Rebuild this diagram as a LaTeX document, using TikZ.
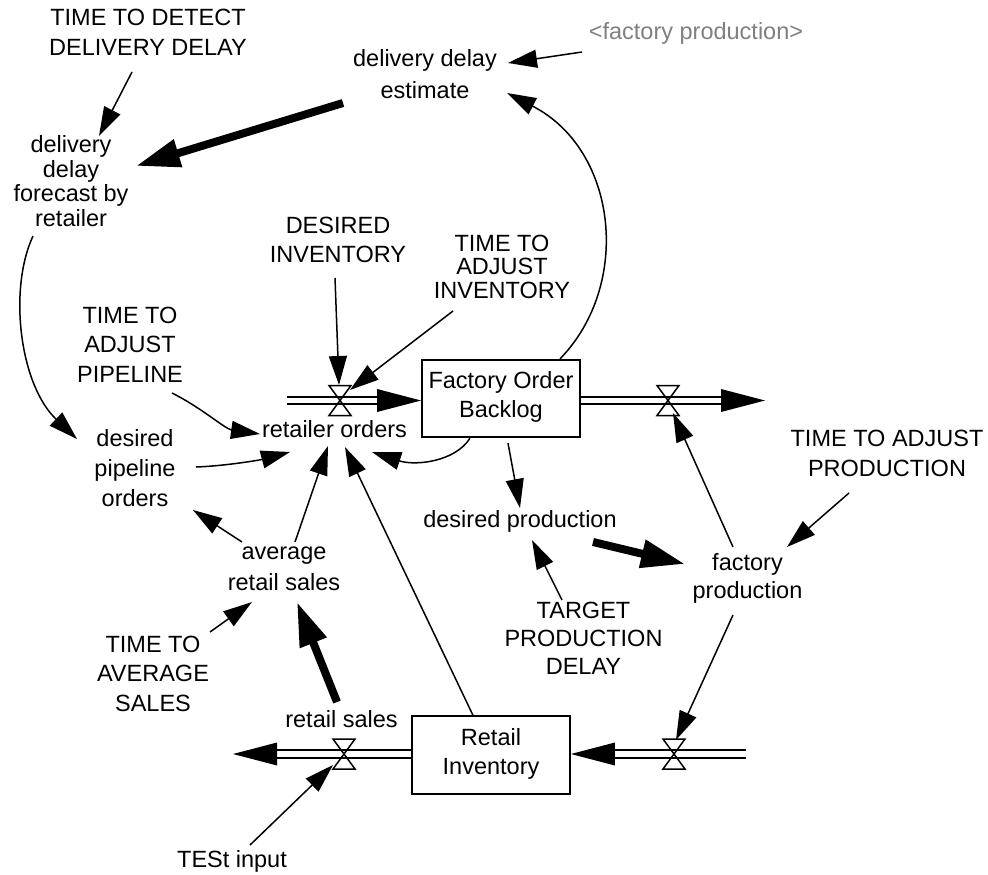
\documentclass[tikz,border=0pt]{standalone}
\usepackage{fontspec}
\newfontfamily\vf{Liberation Sans}
\usetikzlibrary{arrows.meta,calc}
\newcommand\vstrut{\rule[-8pt]{0pt}{28pt}}
\definecolor{fpgray}{RGB}{128,128,128}
\begin{document}
\begin{tikzpicture}[x=1pt,y=-1pt,
  var/.style={align=center, inner sep=0pt, font=\vf\fontsize{23.5}{#1}\selectfont,
    execute at begin node=\vstrut, execute at end node=\vstrut},
  var/.default=30,
  stock/.style={draw, line width=1.8pt, minimum width=158pt, minimum height=77.5pt,
    inner sep=0pt, align=center, font=\vf\fontsize{23.5}{29}\selectfont,
    execute at begin node=\vstrut, execute at end node=\vstrut},
  lnk/.style={line width=1.5pt, -{Triangle[length=29pt,width=18pt]}},
  thk/.style={line width=8pt, -{Triangle[length=44pt,width=27pt]}},
  pipe/.style={double distance=5.9pt, line width=1.6pt},
  valve/.style={line width=1.5pt, line join=miter},
  pipehead/.style={fill=black}]
\fill[white] (0,0) rectangle (988,875);
\useasboundingbox (0,0) rectangle (988,875);

% variables
\node[var] (tddd) at (148,36) {TIME TO DETECT\\DELIVERY DELAY};
\node[var=32] (dde) at (425,78) {delivery delay\\estimate};
\node[var, text=fpgray] (fps) at (696,34) {<factory production>};
\node[var=24.7] (ddf) at (71,185) {delivery\\delay\\forecast by\\retailer};
\node[var=29] (di) at (338,243.5) {DESIRED\\INVENTORY};
\node[var=23.5] (tai) at (502,270.5) {TIME TO\\ADJUST\\INVENTORY};
\node[var=29.5] (tap) at (130,348.5) {TIME TO\\ADJUST\\PIPELINE};
\node[var] (dpo) at (135,472) {desired\\pipeline\\orders};
\node[var] (ro) at (334.5,431) {retailer orders};
\node[stock] (bk) at (501,398.5) {Factory Order\\Backlog};
\node[stock] (ri) at (491,755) {Retail\\Inventory};
\node[var] (dp) at (520,521) {desired production};
\node[var=28] (fp) at (747.5,580) {factory\\production};
\node[var] (tapr) at (887,457) {TIME TO ADJUST\\PRODUCTION};
\node[var=31] (ars) at (284,572.5) {average\\retail sales};
\node[var=28] (tpd) at (583.5,642) {TARGET\\PRODUCTION\\DELAY};
\node[var=29.5] (tas) at (153,677.5) {TIME TO\\AVERAGE\\SALES};
\node[var] (rs) at (341.5,721) {retail sales};
\node[var] (ti) at (232,861) {TESt input};

% valves and pipe ends
\coordinate (v1) at (340,400.5);
\coordinate (v2) at (668,400.5);
\coordinate (v3) at (344,754);
\coordinate (v4) at (674,754);
\coordinate (src1) at (287,400.5);
\coordinate (snk2) at (765,400.5);
\coordinate (snk3) at (233,754);
\coordinate (src4) at (746,754);

% pipes
\draw[pipe] (src1) -- ($(v1 -| bk.west)+(-43,0)$);
\fill[pipehead] ($(v1 -| bk.west)+(-44,-11.5)$) -- (v1 -| bk.west) -- ($(v1 -| bk.west)+(-44,11.5)$) -- cycle;
\draw[pipe] (v2 -| bk.east) -- ($(snk2)+(-43,0)$);
\fill[pipehead] ($(snk2)+(-44,-11.5)$) -- (snk2) -- ($(snk2)+(-44,11.5)$) -- cycle;
\draw[pipe] (v3 -| ri.west) -- ($(snk3)+(43,0)$);
\fill[pipehead] ($(snk3)+(44,-11.5)$) -- (snk3) -- ($(snk3)+(44,11.5)$) -- cycle;
\draw[pipe] (src4) -- ($(v4 -| ri.east)+(43,0)$);
\fill[pipehead] ($(v4 -| ri.east)+(44,-11.5)$) -- (v4 -| ri.east) -- ($(v4 -| ri.east)+(44,11.5)$) -- cycle;

\foreach \v in {v1,v2,v3,v4}{
  \draw[valve] ($(\v)+(-11,-15)$) -- ($(\v)+(11,-15)$) -- (\v) -- cycle
               ($(\v)+(-11,15)$) -- ($(\v)+(11,15)$) -- (\v) -- cycle;
}

% links
\draw[lnk] ($(tddd)+(-16,36)$) -- ($(ddf)+(28,-49)$);
\draw[lnk] ($(fps)+(-114,18)$) -- ($(dde)+(83,-15)$);
\draw[thk] ($(dde)+(-82,25)$) -- ($(ddf)+(65,-19)$);
\draw[lnk] ($(bk.north)+(59,0)$) .. controls (632,285) and (618,150) .. ($(dde)+(82,15)$);
\draw[lnk] ($(ddf)+(-38,51)$) .. controls (8,290) and (20,385) .. ($(dpo)+(-58,-33)$);
\draw[lnk] ($(tap)+(42,44.5)$) .. controls (202,408) and (225,429) .. ($(ro)+(-74.5,3)$);
\draw[lnk] ($(dpo)+(61,-5)$) .. controls (225,466) and (260,460) .. ($(ro)+(-44.5,21)$);
\draw[lnk] ($(ars)+(-42,-30.5)$) -- ($(dpo)+(58,38)$);
\draw[lnk] ($(ars)+(11,-30.5)$) -- ($(ro)+(-6.5,15)$);
\draw[lnk] ($(ri.north)+(-18,0)$) -- ($(ro)+(10.5,16)$);
\draw[lnk] ($(bk.south)+(-31,0)$) .. controls (455,462) and (415,466) .. ($(ro)+(37.5,21)$);
\draw[lnk] ($(di)+(-3,34.5)$) -- ($(v1)+(-1,-15.5)$);
\draw[lnk] ($(tai)+(-49,40.5)$) -- ($(v1)+(10,-10.5)$);
\draw[lnk] ($(bk.south)+(7,5)$) -- ($(dp)+(0,-13)$);
\draw[lnk] ($(fp)+(-14.5,-33)$) -- ($(v2)+(5,12.5)$);
\draw[lnk] ($(tapr)+(-38,36)$) -- ($(fp)+(39.5,-33)$);
\draw[lnk] ($(tpd)+(-21.5,-42)$) -- ($(dp)+(12,19)$);
\draw[thk] ($(dp)+(73,21)$) -- ($(fp)+(-62.5,-16)$);
\draw[lnk] ($(fp)+(-14.5,35)$) -- ($(v4)+(2,-14)$);
\draw[lnk] ($(tas)+(57,-45.5)$) -- ($(ars)+(-32,29.5)$);
\draw[thk] ($(rs)+(-4.5,-19)$) -- ($(ars)+(13,29.5)$);
\draw[lnk] ($(ti)+(18,-16)$) -- ($(v3)+(-11,11)$);
\end{tikzpicture}
\end{document}
